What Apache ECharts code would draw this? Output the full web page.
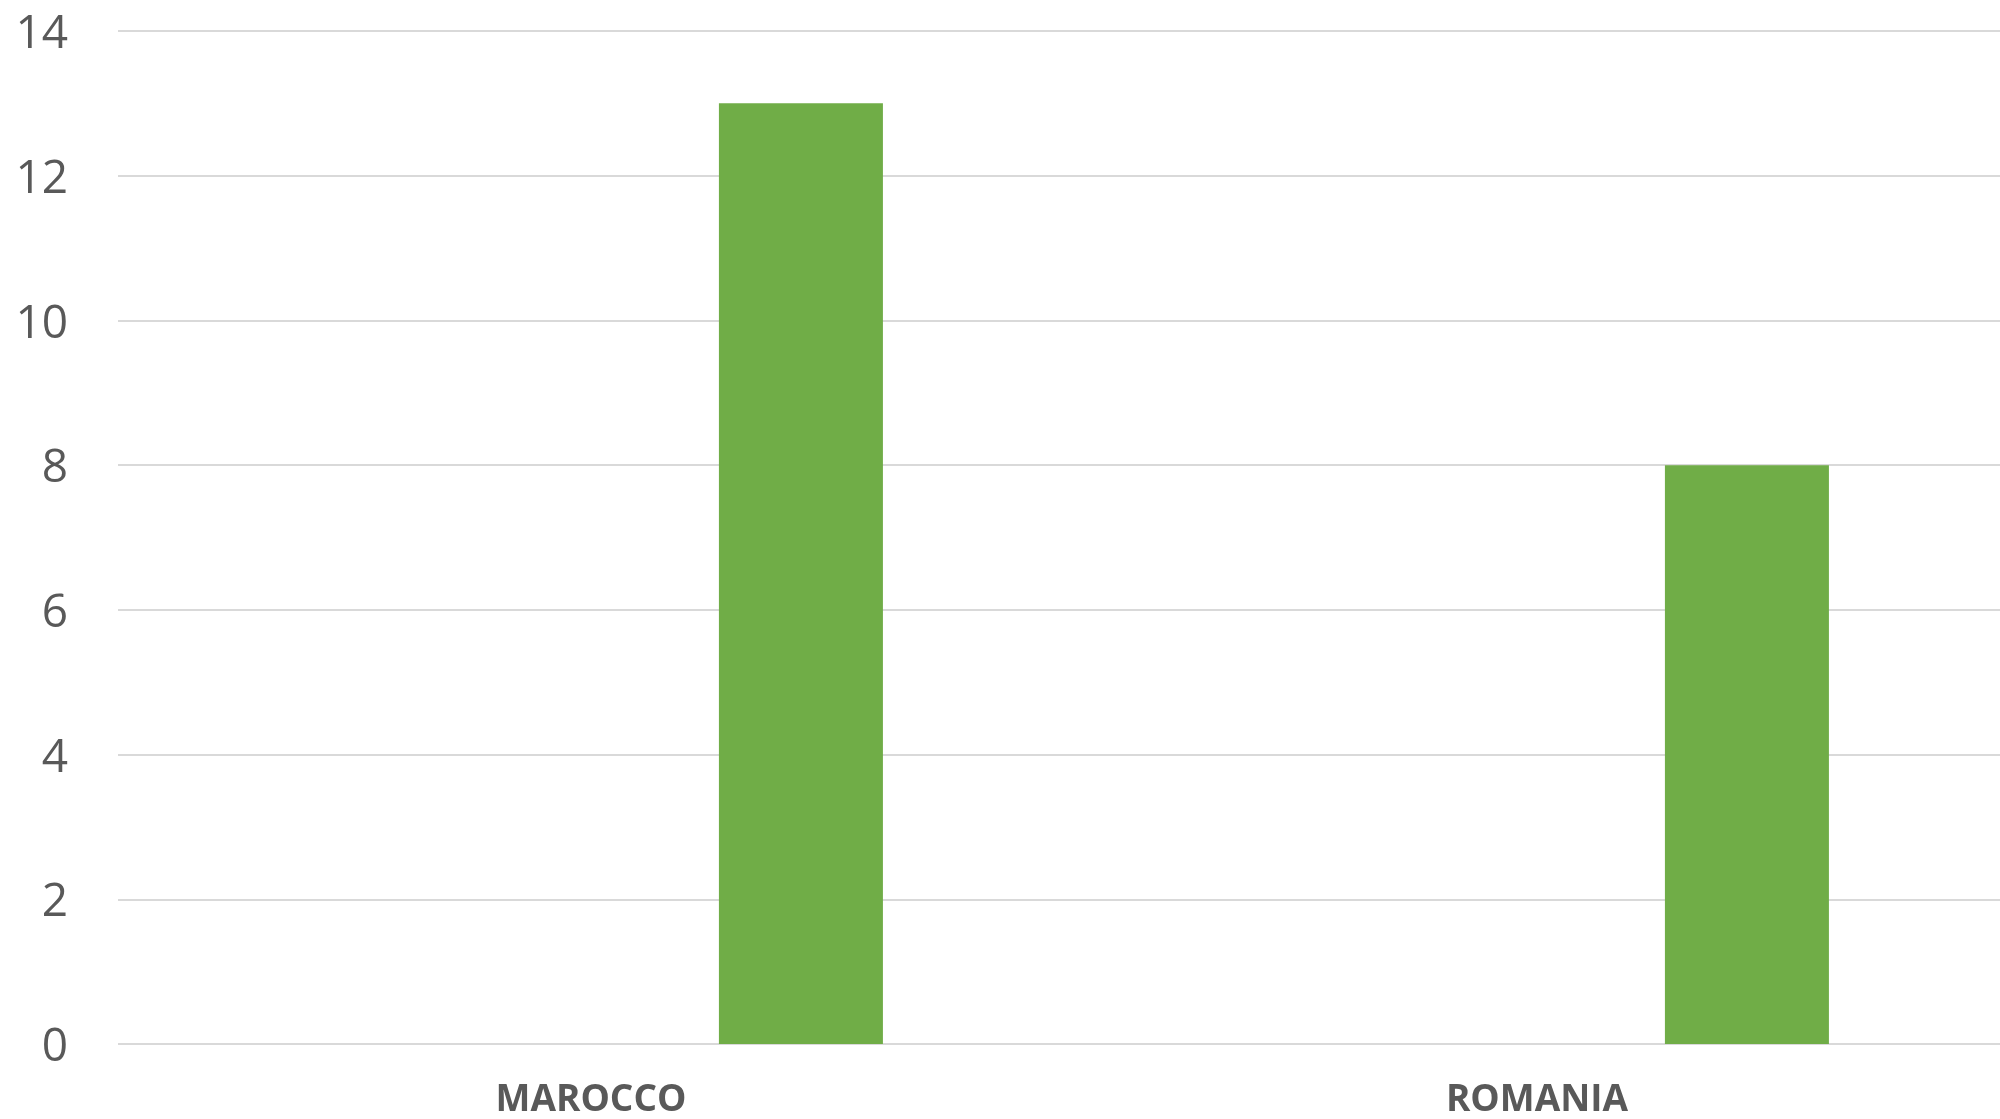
<!DOCTYPE html>
<html><head><meta charset="utf-8">
<script src="https://cdn.jsdelivr.net/npm/echarts@6/dist/echarts.min.js"></script>
<style>html,body{margin:0;padding:0;background:#fff;overflow:hidden}#c{width:2010px;height:1119px}</style>
</head><body><div id="c"></div>
<script>
var categories = ['MAROCCO', 'ROMANIA'];
var seriesA = ['-', '-'];
var seriesB = ['-', '-'];
var seriesC = [13, 8];
var yTicks = [0, 2, 4, 6, 8, 10, 12, 14];

var chart = echarts.init(document.getElementById('c'));
chart.setOption({
  animation: false,
  grid: { left: 118, right: 0, top: 31, bottom: 74 },
  xAxis: {
    type: 'category', data: categories,
    axisLine: { show: false }, axisTick: { show: false },
    axisLabel: { color: '#595959', fontFamily: 'Open Sans', fontWeight: 'bold', fontSize: 37, margin: 38, letterSpacing: -1 }
  },
  yAxis: {
    type: 'value', min: yTicks[0], max: yTicks[yTicks.length - 1], interval: 2,
    axisLine: { show: false }, axisTick: { show: false },
    axisLabel: {
      color: '#595959', fontFamily: 'Open Sans', fontSize: 46, margin: 50,
      formatter: function (v) { return '{a|' + v + '}'; },
      rich: { a: { color: '#595959', fontFamily: 'Open Sans', fontSize: 46, padding: [8, 0, 0, 0] } }
    },
    splitLine: { lineStyle: { color: '#d9d9d9', width: 2 } }
  },
  series: [
    { type: 'bar', data: seriesA, barWidth: 164, barGap: '28%', itemStyle: { color: '#4472C4' } },
    { type: 'bar', data: seriesB, barWidth: 164, barGap: '28%', itemStyle: { color: '#ED7D31' } },
    { type: 'bar', data: seriesC, barWidth: 164, barGap: '28%', itemStyle: { color: '#70AD47' } }
  ]
});
</script></body></html>
